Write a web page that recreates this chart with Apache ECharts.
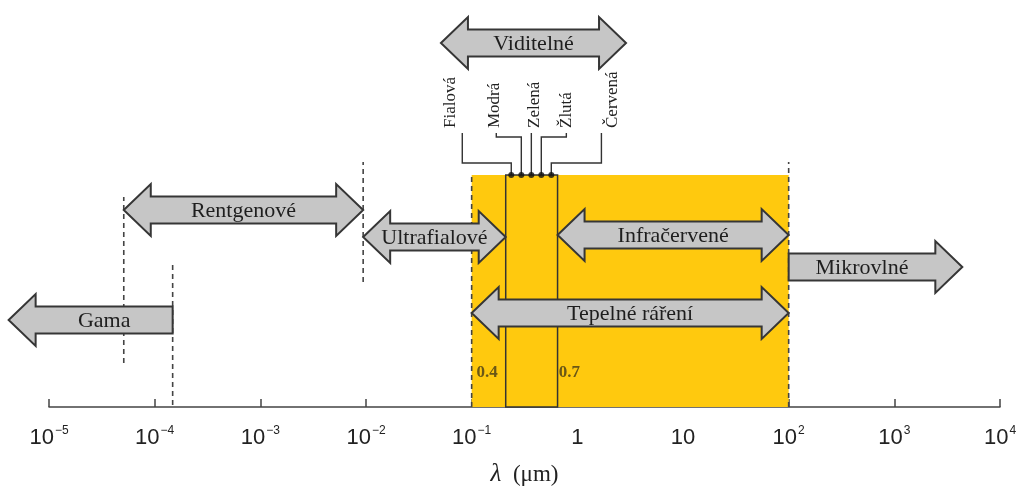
<!DOCTYPE html>
<html>
<head>
<meta charset="utf-8">
<script src="https://cdn.jsdelivr.net/npm/echarts@6/dist/echarts.min.js"></script>
<style>html,body{margin:0;padding:0;background:#fff;}#c{width:1023px;height:488px;}</style>
</head>
<body>
<div id="c"></div>
<script>
// ---- data (x in µm on a log axis, y = height above the axis line) ----
const axisMin = 1e-5;
const axisMax = 1e4;

const arrowNames = ['Gama', 'Rentgenové', 'Ultrafialové', 'Viditelné', 'Infračervené', 'Tepelné ráření', 'Mikrovlné'];
const arrowFrom  = [4.15e-6, 5.1e-5, 0.0094, 0.0512, 0.65, 0.1, 100];
const arrowTo    = [1.48e-4, 0.0094, 0.21, 2.89, 100, 100, 4400];
const arrowLevel = [87, 197, 170, 364, 172, 94, 140];
const arrowKind  = ['L', 'B', 'B', 'B', 'B', 'B', 'R'];

const boundaryX    = [5.1e-5, 1.48e-4, 0.0094, 0.1, 100];
const boundaryLow  = [44, 2, 125, 0, 0];
const boundaryHigh = [210, 144, 245, 232, 245];

const thermalBand = [0.1, 100];
const bandTop = 232;
const visibleEdges = [0.21, 0.65];
const edgeLabels = ['0.4', '0.7'];
const edgeLabelX = [0.14, 0.84];
const edgeLabelLevel = 34;

const colorNames  = ['Fialová', 'Modrá', 'Zelená', 'Žlutá', 'Červená'];
const colorTextX  = [0.0627, 0.164, 0.392, 0.787, 2.14];
const colorLineX  = [0.0815, 0.171, 0.367, 0.787, 1.69];
const colorDotX   = [0.237, 0.295, 0.367, 0.456, 0.567];
const colorBend   = [244, 270, 270, 270, 244];
const colorTextBase = 279;
const colorLineTop = 274;

// ---- chart ----
const chart = echarts.init(document.getElementById('c'));
const serif = 'Liberation Serif';
const ink = '#333';

function arrowPoints(x0, x1, yc, kind) {
  const bh = 13.5, hh = 26, hl = 27;
  if (kind === 'L') return [[x0,yc],[x0+hl,yc-hh],[x0+hl,yc-bh],[x1,yc-bh],[x1,yc+bh],[x0+hl,yc+bh],[x0+hl,yc+hh]];
  if (kind === 'R') return [[x0,yc-bh],[x1-hl,yc-bh],[x1-hl,yc-hh],[x1,yc],[x1-hl,yc+hh],[x1-hl,yc+bh],[x0,yc+bh]];
  return [[x0,yc],[x0+hl,yc-hh],[x0+hl,yc-bh],[x1-hl,yc-bh],[x1-hl,yc-hh],[x1,yc],[x1-hl,yc+hh],[x1-hl,yc+bh],[x0+hl,yc+bh],[x0+hl,yc+hh]];
}

const option = {
  animation: false,
  backgroundColor: '#fff',
  grid: { left: 49, right: 23, top: 0, bottom: 81, outerBoundsMode: 'none', containLabel: false },
  xAxis: {
    type: 'log', logBase: 10, min: axisMin, max: axisMax, splitNumber: 9,
    name: '{i|λ}  (μm)', nameLocation: 'middle', nameGap: 55,
    nameTextStyle: { rich: { i: { fontFamily: serif, fontStyle: 'italic', fontSize: 25, color: '#222' } }, fontFamily: serif, fontSize: 23, color: '#222' },
    axisLine: { lineStyle: { color: '#444', width: 1.5 } },
    axisTick: { inside: true, length: 8, lineStyle: { color: '#444', width: 1.5 } },
    minorTick: { show: false },
    splitLine: { show: false },
    axisLabel: {
      margin: 18,
      formatter: function (v) {
        const e = Math.round(Math.log10(v));
        if (e === 0) return '{b|1}';
        if (e === 1) return '{b|10}';
        return '{b|10}{s|' + (e < 0 ? '−' + (-e) : e) + '}';
      },
      rich: {
        b: { fontFamily: 'Liberation Sans', fontSize: 22, color: '#222', lineHeight: 26 },
        s: { fontFamily: 'Liberation Sans', fontSize: 12, color: '#222', verticalAlign: 'top', lineHeight: 26, padding: [0, 0, 10, 1] }
      }
    }
  },
  yAxis: { type: 'value', min: 0, max: 407, show: false },
  series: [
    { // thermal band
      type: 'custom', z: 1,
      data: [[thermalBand[0], thermalBand[1], bandTop]],
      encode: { x: [0, 1], y: 2 },
      renderItem: function (params, api) {
        const a = api.coord([api.value(0), api.value(2)]);
        const b = api.coord([api.value(1), 0]);
        return { type: 'rect', shape: { x: a[0], y: a[1], width: b[0] - a[0], height: b[1] - a[1] }, style: { fill: '#FFC90E' } };
      }
    },
    { // visible box
      type: 'custom', z: 2,
      data: [[visibleEdges[0], visibleEdges[1], bandTop]],
      encode: { x: [0, 1], y: 2 },
      renderItem: function (params, api) {
        const a = api.coord([api.value(0), api.value(2)]);
        const b = api.coord([api.value(1), 0]);
        return { type: 'rect', shape: { x: a[0], y: a[1], width: b[0] - a[0], height: b[1] - a[1] }, style: { fill: 'none', stroke: ink, lineWidth: 1.5 } };
      }
    },
    { // dashed boundaries
      type: 'custom', z: 3,
      data: boundaryX.map((x, i) => [x, boundaryLow[i], boundaryHigh[i]]),
      encode: { x: 0, y: [1, 2] },
      renderItem: function (params, api) {
        const a = api.coord([api.value(0), api.value(1)]);
        const b = api.coord([api.value(0), api.value(2)]);
        return { type: 'line', shape: { x1: a[0], y1: a[1], x2: b[0], y2: b[1] }, style: { stroke: '#444', lineWidth: 1.6, lineDash: [5, 4] } };
      }
    },
    { // arrows
      type: 'custom', z: 4,
      data: arrowNames.map((n, i) => [arrowFrom[i], arrowTo[i], arrowLevel[i]]),
      encode: { x: [0, 1], y: 2 },
      renderItem: function (params, api) {
        const i = params.dataIndex;
        const a = api.coord([api.value(0), api.value(2)]);
        const b = api.coord([api.value(1), api.value(2)]);
        const kind = arrowKind[i];
        const pts = arrowPoints(a[0], b[0], a[1], kind);
        let cx = (a[0] + b[0]) / 2;
        if (kind === 'L') cx = (a[0] + 27 + b[0]) / 2;
        if (kind === 'R') cx = (a[0] + b[0] - 27) / 2;
        return {
          type: 'group',
          children: [
            { type: 'polygon', shape: { points: pts }, style: { fill: '#C6C6C6', stroke: '#363636', lineWidth: 2, lineJoin: 'miter' } },
            { type: 'text', x: cx, y: a[1] + 1, style: { text: arrowNames[i], fill: '#1e1e1e', fontFamily: serif, fontSize: 22, align: 'center', verticalAlign: 'middle' } }
          ]
        };
      }
    },
    { // leader lines
      type: 'custom', z: 5,
      data: colorNames.map((n, i) => [colorLineX[i], colorDotX[i], colorBend[i]]),
      encode: { x: [0, 1], y: 2 },
      renderItem: function (params, api) {
        const p1 = api.coord([api.value(0), colorLineTop]);
        const p2 = api.coord([api.value(0), api.value(2)]);
        const p3 = api.coord([api.value(1), api.value(2)]);
        const p4 = api.coord([api.value(1), bandTop]);
        return { type: 'polyline', shape: { points: [p1, p2, p3, p4] }, style: { fill: 'none', stroke: ink, lineWidth: 1.4 } };
      }
    },
    { // colour names
      type: 'custom', z: 5,
      data: colorNames.map((n, i) => [colorTextX[i], colorTextBase]),
      encode: { x: 0, y: 1 },
      renderItem: function (params, api) {
        const p = api.coord([api.value(0), api.value(1)]);
        return { type: 'text', x: p[0], y: p[1], rotation: Math.PI / 2, style: { text: colorNames[params.dataIndex], fill: '#222', fontFamily: serif, fontSize: 17, align: 'left', verticalAlign: 'middle' } };
      }
    },
    { // edge labels
      type: 'custom', z: 5,
      data: edgeLabels.map((n, i) => [edgeLabelX[i], edgeLabelLevel]),
      encode: { x: 0, y: 1 },
      renderItem: function (params, api) {
        const p = api.coord([api.value(0), api.value(1)]);
        return { type: 'text', x: p[0], y: p[1], style: { text: edgeLabels[params.dataIndex], fill: '#6a5716', fontFamily: serif, fontWeight: 'bold', fontSize: 17, align: 'center', verticalAlign: 'middle' } };
      }
    },
    { // dots
      type: 'scatter', z: 6,
      data: colorDotX.map(x => [x, bandTop]),
      symbol: 'circle', symbolSize: 6,
      itemStyle: { color: '#111' }
    }
  ]
};
chart.setOption(option);
</script>
</body>
</html>
